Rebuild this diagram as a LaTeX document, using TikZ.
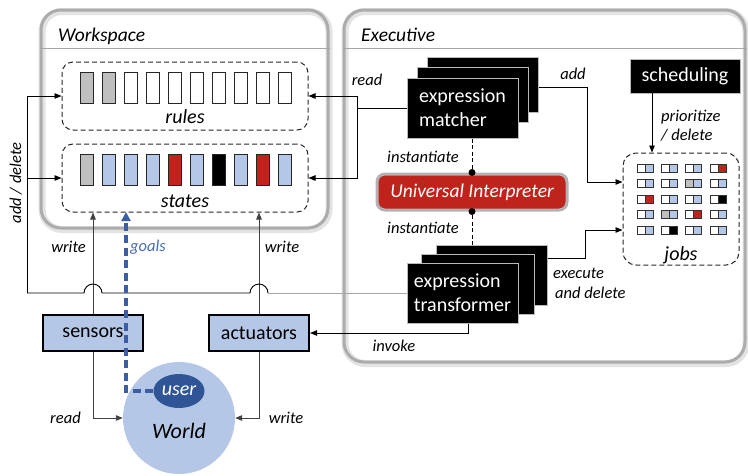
\documentclass[tikz,border=0pt]{standalone}
\usepackage{fontspec}
\setmainfont{Carlito}
\usetikzlibrary{arrows.meta,calc,shapes.geometric}
\definecolor{cblue}{HTML}{B4C7E7}
\definecolor{cred}{HTML}{C0231B}
\definecolor{cgray}{HTML}{BFBFBF}
\definecolor{ublue}{HTML}{2F5597}
\definecolor{gblue}{HTML}{3A5DA6}
\definecolor{lblue}{HTML}{4A6BB0}
\begin{document}
\begin{tikzpicture}[x=1pt,y=-1pt,
  >={Triangle[length=7pt,width=5.5pt]},
  panel/.style={draw=gray!65, line width=3pt, rounded corners=20pt, inner sep=0pt,
     preaction={draw=gray!22, line width=7pt, transform canvas={xshift=1pt,yshift=-1.5pt}}},
  titleline/.style={draw=gray!70, line width=0.8pt},
  ttl/.style={font=\fontsize{19.5}{23}\selectfont\itshape, inner sep=0pt},
  dbox/.style={draw=black!85, dashed, dash pattern=on 5pt off 3pt, line width=1pt, rounded corners=11pt, inner sep=0pt},
  cell/.style={draw=black!85, line width=1pt, minimum width=13pt, minimum height=31pt, inner sep=0pt},
  jcell/.style={draw=black!80, line width=0.8pt, minimum width=8pt, minimum height=8pt, inner sep=0pt},
  mtxt/.style={font=\fontsize{20}{24}\selectfont, inner sep=0pt},
  itxt/.style={font=\fontsize{20}{24}\selectfont\itshape, inner sep=0pt},
  lab/.style={font=\fontsize{16.5}{20}\selectfont\itshape, inner sep=0pt},
  blk/.style={fill=black, draw=gray!55, line width=1pt, inner sep=0pt, text=white, font=\fontsize{20}{24}\selectfont},
  bluebox/.style={fill=cblue, draw=black, line width=2.2pt, minimum width=100pt, minimum height=36pt, inner sep=0pt, font=\fontsize{20}{24}\selectfont},
  conn/.style={draw=black, line width=0.9pt},
  dconn/.style={draw=black, line width=1pt, dashed, dash pattern=on 4pt off 2.5pt},
  dot/.style={circle, fill=black, minimum size=7pt, inner sep=0pt},
  goal/.style={draw=gblue, line width=3.3pt, dash pattern=on 8pt off 4.5pt},
]
\useasboundingbox (0,0) rectangle (748,475);

% ---------- panels
\node[panel, minimum width=287pt, minimum height=218pt] (ws) at (184.5,119) {};
\node[panel, minimum width=401pt, minimum height=352pt] (ex) at (544.5,186) {};
\draw[titleline] (ws.west |- 0,48) -- (ws.east |- 0,48);
\draw[titleline] (ex.west |- 0,48) -- (ex.east |- 0,48);
\node[ttl, anchor=base west] (wst) at (58,41) {Workspace};
\node[ttl, anchor=base west] (ext) at (361,41) {Executive};

% ---------- rules & states
\node[dbox, minimum width=246pt, minimum height=68pt] (rules) at (185,96) {};
\node[dbox, minimum width=246pt, minimum height=68pt] (states) at (185,178) {};
\foreach \c [count=\i] in {cgray,cgray,white,white,white,white,white,white,white,white}
  \node[cell, fill=\c] (r\i) at (64.5+22*\i,88) {};
\foreach \c [count=\i] in {cgray,cblue,cblue,cblue,cred,cblue,black,cblue,cred,cblue}
  \node[cell, fill=\c] (s\i) at (64.5+22*\i,169.5) {};
\node[itxt, anchor=base] (rl) at (185,123) {rules};
\node[itxt, anchor=base] (sl) at (185,207) {states};

% ---------- matcher stack
\node[blk, minimum width=111pt, minimum height=55pt] (m3) at (482.5,84.5) {};
\node[blk, minimum width=111pt, minimum height=55pt] (m2) at (472.5,94.5) {};
\node[blk, minimum width=111pt, minimum height=60pt, align=left] (m1) at (462.5,108) {expression\\matcher};

% ---------- universal interpreter
\node[fill=cred, draw=gray!60, line width=3pt, rounded corners=8pt, minimum width=190pt, minimum height=36pt,
      inner sep=0pt, text=white, font=\fontsize{19.5}{23}\selectfont\itshape] (ui) at (472,192) {Universal Interpreter};

% ---------- transformer stack
\node[blk, minimum width=111pt, minimum height=60pt] (t3) at (491.5,275) {};
\node[blk, minimum width=113pt, minimum height=60pt] (t2) at (477.5,284) {};
\node[blk, minimum width=111pt, minimum height=60pt, align=left] (t1) at (462.5,293) {expression\\transformer};

% ---------- instantiate links
\node[dot] (d1) at (ui.north) {};
\node[dot] (d2) at (ui.south) {};
\draw[dconn] (ui.north |- m1.south) -- (d1);
\draw[dconn] (d2) -- (ui.south |- t3.north);
\node[lab, anchor=base] (li1) at (423,162) {instantiate};
\node[lab, anchor=base] (li2) at (423,233) {instantiate};

% ---------- scheduling & jobs
\node[blk, minimum width=110pt, minimum height=34pt] (sch) at (685,76) {scheduling};
\node[dbox, minimum width=116pt, minimum height=112pt, rounded corners=13pt] (jobs) at (681,209) {};
\node[itxt, anchor=base] (jl) at (681,260) {jobs};
\foreach \rowc [count=\r] in {
  {white/cblue,white/cblue,white/cblue,white/cred},
  {white/cblue,white/cblue,cgray/cblue,white/cblue},
  {white/cred,white/cblue,white/cblue,white/black},
  {white/cblue,cgray/cblue,white/cred,white/cblue},
  {white/cblue,white/black,white/cblue,white/cblue}}{
  \foreach \lc/\rc [count=\k] in \rowc {
    \node[jcell, fill=\lc] (ja\r\k) at (641+24.4*\k-24.4, 152.5+15.5*\r) {};
    \node[jcell, fill=\rc] (jb\r\k) at (649+24.4*\k-24.4, 152.5+15.5*\r) {};
  }
}
\coordinate (schb) at (652,93);
\draw[conn,->] (schb) -- (schb |- jobs.north);
\node[lab, anchor=base west, align=left] (lp) at (661,121) {prioritize};
\node[lab, anchor=base west] (lpd) at (661,140) {/ delete};

% ---------- read
\coordinate (rj) at (357,108);
\draw[conn] (m1.west) -- (rj);
\draw[conn,->] (rj) |- (rules.east);
\draw[conn,->] (rj) |- (states.east);
\node[lab, anchor=base] (lr) at (367,85) {read};

% ---------- add
\coordinate (aj) at (587,87);
\coordinate (ae) at (0,182);
\draw[conn,->] ($(m3.east)+(0,2.5)$) -- (aj) |- (jobs.west |- ae);
\node[lab, anchor=base] (la) at (573,79) {add};

% ---------- execute
\coordinate (xj) at (585,258);
\coordinate (xe) at (0,230);
\draw[conn,->] (t3.east |- xj) -- (xj) |- (jobs.west |- xe);
\node[lab, anchor=base west] (lx1) at (553,278) {execute};
\node[lab, anchor=base west] (lx2) at (555,298) {and delete};

% ---------- sensors / actuators / world
\node[bluebox] (sens) at (93,333) {sensors};
\node[bluebox] (act) at (259,333) {actuators};
\node[circle, fill=cblue, minimum size=112pt, inner sep=0pt] (world) at (179,418) {};
\node[itxt, font=\fontsize{22}{26}\selectfont\itshape, anchor=base] (wl) at (179,438) {World};
\node[ellipse, fill=ublue, minimum width=51pt, minimum height=34pt, inner sep=0pt, text=white,
      font=\fontsize{20}{24}\selectfont\itshape] (user) at (179,391) {user};

% invoke
\draw[conn,->] ($(t1.south)+(5.5,0)$) |- (act.east);
\node[lab, anchor=base] (lv) at (394,351) {invoke};

% write arrows
\draw[conn, draw=black!75,->] (sens.north) -- (sens.north |- states.south);
\draw[conn, draw=black!75,->] (act.north) -- (act.north |- states.south);
\node[lab, anchor=base] (lw1) at (68.5,252) {write};
\node[lab, anchor=base] (lw2) at (282,252) {write};

% add / delete long line with hops
\coordinate (h2r) at (268,293);
\coordinate (lc) at (27,293);
\coordinate (lsj) at (27,178);
\draw[draw=gray!70, line width=0.9pt] (t1.west) -- (h2r);
\draw[conn] (h2r) arc[start angle=0, end angle=180, radius=9pt] -- (102,293)
   arc[start angle=0, end angle=180, radius=9pt] -- (lc);
\draw[conn,->] (lc) |- (rules.west);
\draw[conn,->] (lsj) -- (states.west);
\node[lab, rotate=90, anchor=base] (lad) at (21,183) {add / delete};

% sensors/actuators to world
\draw[conn, draw=black!75,->] (sens.south) |- (world.west);
\draw[conn, draw=black!75,->] (act.south) |- (world.east);
\node[lab, anchor=base] (lr2) at (65.5,423) {read};
\node[lab, anchor=base] (lw3) at (286,423) {write};

% goals
\coordinate (gt) at (126,212);
\draw[goal,->, >={Triangle[length=9pt,width=9pt]}] (user.west) -| (gt);
\node[lab, anchor=base, text=lblue] (lg) at (148,251) {goals};
\end{tikzpicture}
\end{document}
